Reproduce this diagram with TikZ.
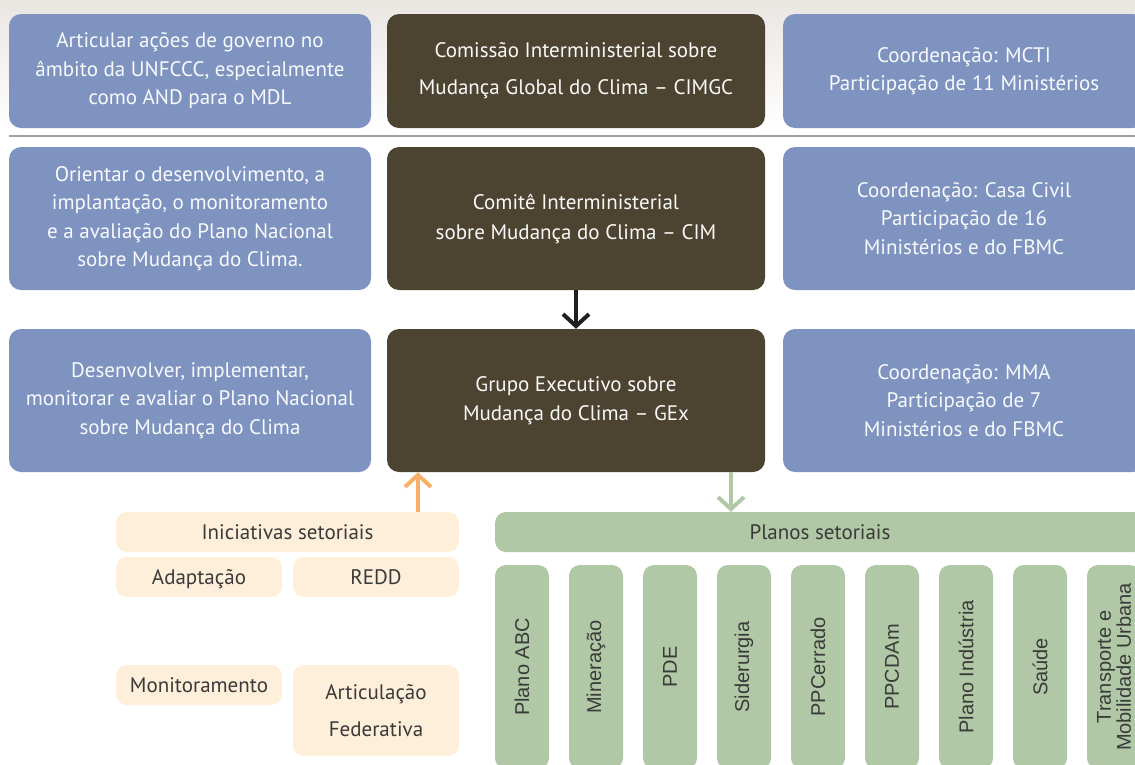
\documentclass[tikz,border=0pt]{standalone}
\usepackage{fontspec}
\setmainfont{PT Sans}
\newfontfamily\vertfont{Liberation Sans}
\usetikzlibrary{arrows.meta}
\definecolor{boxblue}{HTML}{7F93C0}
\definecolor{boxdark}{HTML}{4D4331}
\definecolor{boxbeige}{HTML}{FEEFDA}
\definecolor{boxgreen}{HTML}{B0C8A6}
\definecolor{arroworange}{HTML}{F8B068}
\definecolor{textgrey}{HTML}{3A3A3A}
\definecolor{bggrey}{HTML}{E9E6E2}
\definecolor{linegrey}{HTML}{A0A0A0}
\tikzset{
    box/.style={rounded corners=12pt, inner sep=0pt, align=center, font=\fontsize{21}{28.5}\selectfont},
    bluebox/.style={box, fill=boxblue, text=white!94!boxblue, minimum width=362pt},
    darkbox/.style={box, fill=boxdark, text=white!96!boxdark, minimum width=378pt},
    beigebox/.style={box, fill=boxbeige, text=textgrey, rounded corners=11pt, minimum width=166pt, minimum height=40pt},
    oneline/.style={text height=19pt, text depth=4pt},
    sectorbox/.style={rounded corners=11pt, inner sep=0pt, align=center, rotate=90, fill=boxgreen, text=textgrey,
        minimum width=204pt, minimum height=54pt, font=\vertfont\fontsize{20}{20}\selectfont},
    barb/.style={-{Straight Barb[length=12pt,width=26pt]}, line width=4pt},
}
\begin{document}
\begin{tikzpicture}[x=1pt,y=-1pt]
    \useasboundingbox (0,0) rectangle (1135,764);
    \clip (0,0) rectangle (1135,764);
    \shade[top color=bggrey, bottom color=white] (0,0) rectangle (1135,130);
    \draw[linegrey, line width=1.5pt] (9,136) -- (1135,136);

    % row 1
    \node[bluebox, minimum height=114pt] (act1) at (190,71) {Articular ações de governo no\\âmbito da UNFCCC, especialmente\\como AND para o MDL};
    \node[darkbox, minimum height=114pt, font=\fontsize{21}{37}\selectfont] (cimgc) at (576,71) {Comissão Interministerial sobre\\Mudança Global do Clima -- CIMGC};
    \node[bluebox, minimum height=114pt] (coord1) at (964,71) {Coordenação: MCTI\\Participação de 11 Ministérios};

    % row 2
    \node[bluebox, minimum height=143pt] (act2) at (190,218.5) {Orientar o desenvolvimento, a\\implantação, o monitoramento\\e a avaliação do Plano Nacional\\sobre Mudança do Clima.};
    \node[darkbox, minimum height=143pt, font=\fontsize{21}{30}\selectfont] (cim) at (576,218.5) {Comitê Interministerial\\sobre Mudança do Clima -- CIM};
    \node[bluebox, minimum height=143pt] (coord2) at (964,218.5) {Coordenação: Casa Civil\\Participação de 16\\Ministérios e do FBMC};

    % row 3
    \node[bluebox, minimum height=143pt] (act3) at (190,400.5) {Desenvolver, implementar,\\monitorar e avaliar o Plano Nacional\\sobre Mudança do Clima};
    \node[darkbox, minimum height=143pt] (gex) at (576,400.5) {Grupo Executivo sobre\\Mudança do Clima -- GEx};
    \node[bluebox, minimum height=143pt] (coord3) at (964,400.5) {Coordenação: MMA\\Participação de 7\\Ministérios e do FBMC};

    % iniciativas
    \node[beigebox, oneline, minimum width=343pt] (ini) at (287.5,532) {Iniciativas setoriais};
    \node[beigebox, oneline] (adapt) at (199,577) {Adaptação};
    \node[beigebox, oneline] (redd) at (376,577) {REDD};
    \node[beigebox, oneline] (monit) at (199,685) {Monitoramento};
    \node[beigebox, minimum height=91pt, font=\fontsize{21}{37}\selectfont] (artic) at (376,710.5) {Articulação\\Federativa};

    % planos
    \node[box, oneline, fill=boxgreen, text=textgrey, rounded corners=11pt, minimum width=650pt, minimum height=40pt] (planos) at (820,532) {Planos setoriais};
    \foreach \name [count=\i from 0] in {Plano ABC,Mineração,PDE,Siderurgia,PPCerrado,PPCDAm,Plano Indústria,Saúde,Transporte e\\Mobilidade Urbana} {
        \node[sectorbox] (plan\i) at (522+74*\i,667) {\name};
    }

    % arrows
    \coordinate (upx) at (418,0);
    \coordinate (downx) at (731,0);
    \draw[barb, black!88] (cim) -- (gex);
    \draw[barb, arroworange] (ini.north -| upx) -- (gex.south -| upx);
    \draw[barb, boxgreen] (gex.south -| downx) -- (planos.north -| downx);
\end{tikzpicture}
\end{document}
